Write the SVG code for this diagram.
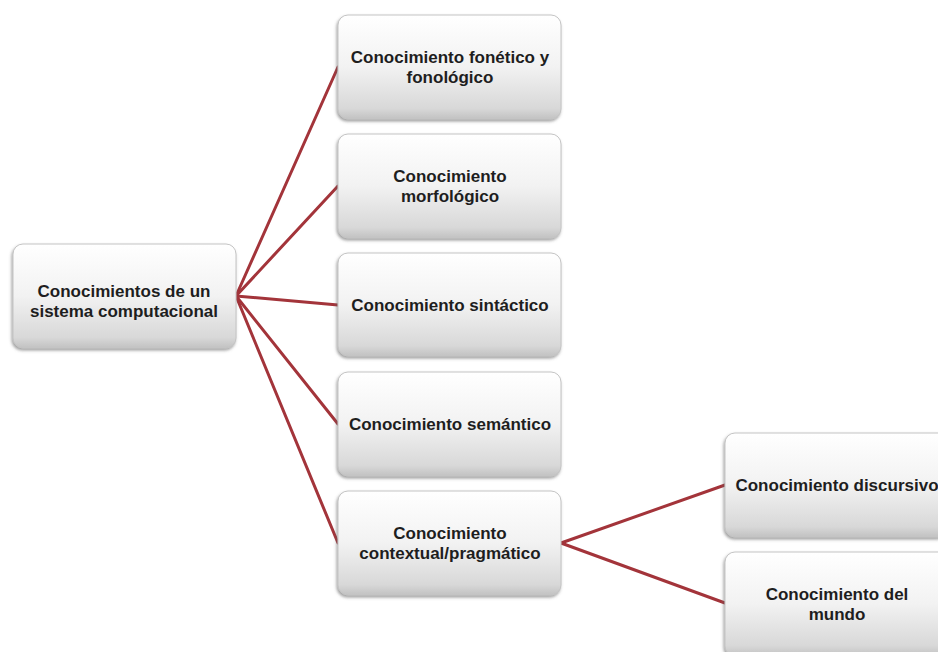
<svg xmlns="http://www.w3.org/2000/svg" width="938" height="652" viewBox="0 0 938 652">
  <style>
    .box { fill: url(#boxFill); stroke: #c4c4c4; stroke-width: 1; filter: url(#shadow); }
    .label { font-family: "Liberation Sans", Arial, sans-serif; font-weight: bold; font-size: 17px; fill: #1e1e1e; text-anchor: middle; }
    .link { stroke: #a3343a; stroke-width: 3; fill: none; stroke-linecap: round; }
  </style>
  <defs>
    <linearGradient id="boxFill" x1="0" y1="0" x2="0" y2="1">
      <stop offset="0" stop-color="#ffffff"/>
      <stop offset="0.5" stop-color="#f2f2f2"/>
      <stop offset="0.9" stop-color="#d8d8d8"/>
      <stop offset="1" stop-color="#c2c2c2"/>
    </linearGradient>
    <filter id="shadow" x="-10%" y="-10%" width="125%" height="130%">
      <feDropShadow dx="-1" dy="2" stdDeviation="1.5" flood-color="#606060" flood-opacity="0.6"/>
    </filter>
  </defs>
  <rect width="938" height="652" fill="#ffffff"/>

  <g id="connectors">
    <line class="link" x1="236" y1="296" x2="338" y2="67"/>
    <line class="link" x1="236" y1="296" x2="338" y2="186"/>
    <line class="link" x1="236" y1="296" x2="338" y2="305"/>
    <line class="link" x1="236" y1="296" x2="338" y2="424"/>
    <line class="link" x1="236" y1="296" x2="338" y2="543"/>
    <line class="link" x1="561" y1="543" x2="725" y2="485"/>
    <line class="link" x1="561" y1="543" x2="725" y2="603"/>
  </g>

  <g id="root">
    <rect class="box" x="13" y="244" width="223" height="104" rx="10"/>
    <text class="label" x="124" y="297">Conocimientos de un</text>
    <text class="label" x="124" y="317">sistema computacional</text>
  </g>

  <g id="fonetico">
    <rect class="box" x="338" y="15" width="223" height="104" rx="10"/>
    <text class="label" x="450" y="63">Conocimiento fonético y</text>
    <text class="label" x="450" y="83">fonológico</text>
  </g>

  <g id="morfologico">
    <rect class="box" x="338" y="134" width="223" height="104" rx="10"/>
    <text class="label" x="450" y="182">Conocimiento</text>
    <text class="label" x="450" y="202">morfológico</text>
  </g>

  <g id="sintactico">
    <rect class="box" x="338" y="253" width="223" height="103" rx="10"/>
    <text class="label" x="450" y="311">Conocimiento sintáctico</text>
  </g>

  <g id="semantico">
    <rect class="box" x="338" y="372" width="223" height="104" rx="10"/>
    <text class="label" x="450" y="430">Conocimiento semántico</text>
  </g>

  <g id="pragmatico">
    <rect class="box" x="338" y="491" width="223" height="104" rx="10"/>
    <text class="label" x="450" y="539">Conocimiento</text>
    <text class="label" x="450" y="559">contextual/pragmático</text>
  </g>

  <g id="discursivo">
    <rect class="box" x="725" y="433" width="223" height="104" rx="10"/>
    <text class="label" x="837" y="491">Conocimiento discursivo</text>
  </g>

  <g id="mundo">
    <rect class="box" x="725" y="552" width="223" height="104" rx="10"/>
    <text class="label" x="837" y="600">Conocimiento del</text>
    <text class="label" x="837" y="620">mundo</text>
  </g>
</svg>
